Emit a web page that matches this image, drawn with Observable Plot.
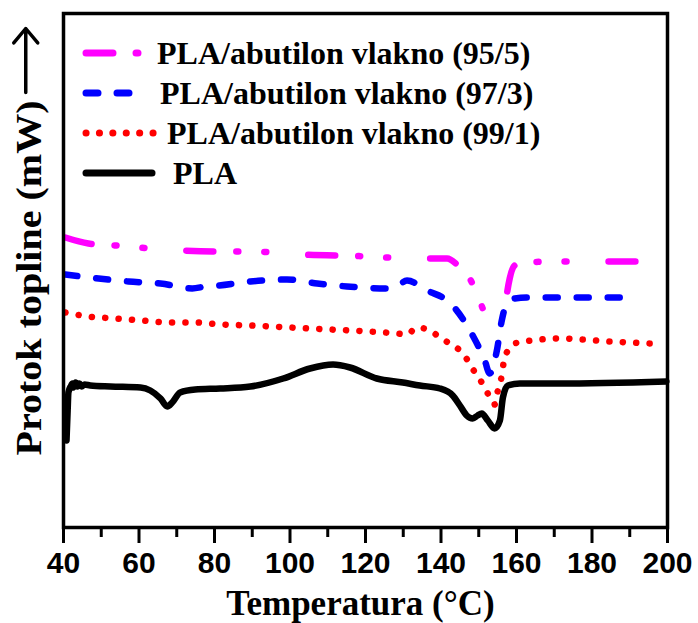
<!DOCTYPE html>
<html><head><meta charset="utf-8">
<script src="https://cdn.jsdelivr.net/npm/d3@7"></script>
<script src="https://cdn.jsdelivr.net/npm/@observablehq/plot@0.6"></script>
<style>body{margin:0;background:#fff}</style>
</head><body><div id="chart"></div>
<script>
// Temperature (°C) / heat flow (arbitrary, offset curves)
const pla95 = [[40.5,3.03],[46.6,2.97],[53.8,2.95],[67.0,2.91],[81.0,2.89],[89.5,2.89],[102.7,2.86],[121.2,2.84],[131.8,2.82],[141.6,2.82],[144.5,2.75],[147.6,2.62],[150.3,2.40],[151.3,2.31],[156.9,2.30],[157.4,2.45],[158.2,2.62],[159.5,2.75],[161.7,2.78],[171.4,2.79],[191.5,2.79]];
const pla97 = [[40.5,2.66],[49.3,2.62],[57.2,2.59],[65.7,2.57],[74.1,2.52],[77.6,2.54],[81.0,2.55],[89.5,2.59],[99.2,2.61],[107.2,2.57],[115.1,2.54],[125.7,2.52],[128.6,2.55],[131.0,2.60],[136.3,2.50],[142.3,2.38],[148.4,2.05],[151.6,1.80],[152.9,1.67],[154.8,1.90],[156.1,2.20],[157.2,2.35],[159.5,2.42],[162.7,2.43],[191.0,2.43]];
const pla99 = [[40.5,2.28],[46.6,2.24],[53.8,2.22],[60.9,2.20],[67.8,2.18],[74.9,2.18],[82.0,2.16],[89.5,2.15],[100.0,2.13],[110.6,2.11],[121.2,2.09],[128.3,2.07],[131.0,2.06],[133.6,2.13],[137.1,2.10],[139.7,2.03],[142.3,1.97],[145.0,1.90],[147.1,1.80],[149.0,1.68],[150.8,1.58],[152.7,1.45],[154.2,1.36],[155.0,1.49],[156.1,1.65],[156.6,1.78],[157.9,1.91],[160.3,1.98],[164.0,2.00],[171.4,2.02],[184.7,1.99],[195.8,1.97]];
const plaPure = [[40.8,1.00],[41.1,1.30],[41.3,1.48],[41.9,1.54],[42.4,1.57],[42.6,1.53],[43.2,1.58],[43.7,1.54],[44.2,1.57],[44.8,1.54],[45.6,1.56],[47.1,1.55],[52.4,1.54],[60.4,1.53],[63.0,1.50],[65.7,1.42],[67.5,1.34],[68.8,1.38],[70.9,1.48],[74.9,1.51],[81.5,1.52],[89.5,1.54],[98.2,1.62],[105.3,1.72],[111.4,1.76],[115.9,1.73],[123.0,1.62],[129.9,1.58],[134.4,1.55],[139.7,1.52],[143.1,1.45],[145.0,1.35],[146.8,1.25],[148.4,1.22],[149.7,1.25],[150.8,1.27],[152.4,1.20],[154.2,1.12],[155.6,1.20],[156.4,1.43],[157.7,1.55],[160.9,1.57],[171.4,1.57],[199.7,1.59]];

const seriesNames = ["PLA/abutilon vlakno (95/5)","PLA/abutilon vlakno (97/3)","PLA/abutilon vlakno (99/1)","PLA"];
const seriesColors = ["#ff00ff","#0000ff","#ff0000","#000000"];
const seriesDash = ["27,23,2,26,2,42","12,19","0.1,13.3",null];
const seriesData = [pla95, pla97, pla99, plaPure];

const xMajorTicks = [40,60,80,100,120,140,160,180,200];
const xMinorTicks = [50,70,90,110,130,150,170,190];
const xLabel = "Temperatura (°C)";
const yLabel = "Protok topline (mW)";
const upArrow = [{x: 30, y1: 4.48, y2: 5.12}];

const serif = "'Liberation Serif','Times New Roman',serif";
const sans = "'Liberation Sans',Arial,sans-serif";

const lineMarks = [3,2,1,0].map(i => Plot.line(seriesData[i], {
  x: d => d[0], y: d => d[1], stroke: seriesColors[i], strokeWidth: 6.5,
  strokeDasharray: seriesDash[i] || undefined, strokeLinecap: "round", strokeLinejoin: "round",
  curve: "monotone-x"
}));

const plot = Plot.plot({
  width: 698, height: 623,
  marginLeft: 63, marginRight: 31, marginTop: 13, marginBottom: 96,
  style: {fontFamily: sans, background: "#fff"},
  x: {domain: [40, 200]},
  y: {domain: [0.13, 5.27], axis: null},
  marks: [
    ...lineMarks,
    Plot.frame({strokeWidth: 3.5}),
    Plot.axisX(xMinorTicks, {tickSize: 10, strokeWidth: 3, text: null, label: null}),
    Plot.axisX(xMajorTicks, {tickSize: 16, tickPadding: 8, strokeWidth: 3, label: null,
      fontSize: 30, fontWeight: "bold", fontFamily: sans, tickFormat: d => String(d)}),
    Plot.text([xLabel], {frameAnchor: "bottom", text: d => d, dy: 76, dx: -5,
      fontSize: 35, fontWeight: "bold", fontFamily: serif, lineAnchor: "middle"}),
    Plot.text([yLabel], {frameAnchor: "left", text: d => d, dx: -34, dy: 185, rotate: -90,
      fontSize: 36, fontWeight: "bold", fontFamily: serif, lineAnchor: "middle", textAnchor: "start", className: "ylab"}),
    Plot.arrow(upArrow, {x1: "x", x2: "x", y1: "y1", y2: "y2", strokeWidth: 3.5, headAngle: 80, stroke: "#000"})
  ]
});

// y label length adjustment
d3.select(plot).selectAll(".ylab text").attr("textLength", 355).attr("lengthAdjust", "spacingAndGlyphs");

// Legend inside the frame
const legendRowsY = [53, 93, 133, 173];
const legendTextX = [157, 160, 167, 173];
const legendLineEnd = [145, 133, 157, 155];
const lg = d3.select(plot).append("g").attr("text-anchor", "start");
seriesNames.forEach((name, i) => {
  lg.append("line").attr("x1", 86).attr("x2", legendLineEnd[i] - 3)
    .attr("y1", legendRowsY[i]).attr("y2", legendRowsY[i])
    .attr("stroke", seriesColors[i]).attr("stroke-width", 7)
    .attr("stroke-linecap", "round")
    .attr("stroke-dasharray", seriesDash[i]);
  lg.append("text").attr("x", legendTextX[i]).attr("y", legendRowsY[i])
    .attr("dy", "0.34em").attr("text-anchor", "start")
    .attr("font-family", serif).attr("font-weight", "bold").attr("font-size", 32)
    .attr("fill", "#000").text(name);
});

document.getElementById("chart").appendChild(plot);
</script>
</body></html>
